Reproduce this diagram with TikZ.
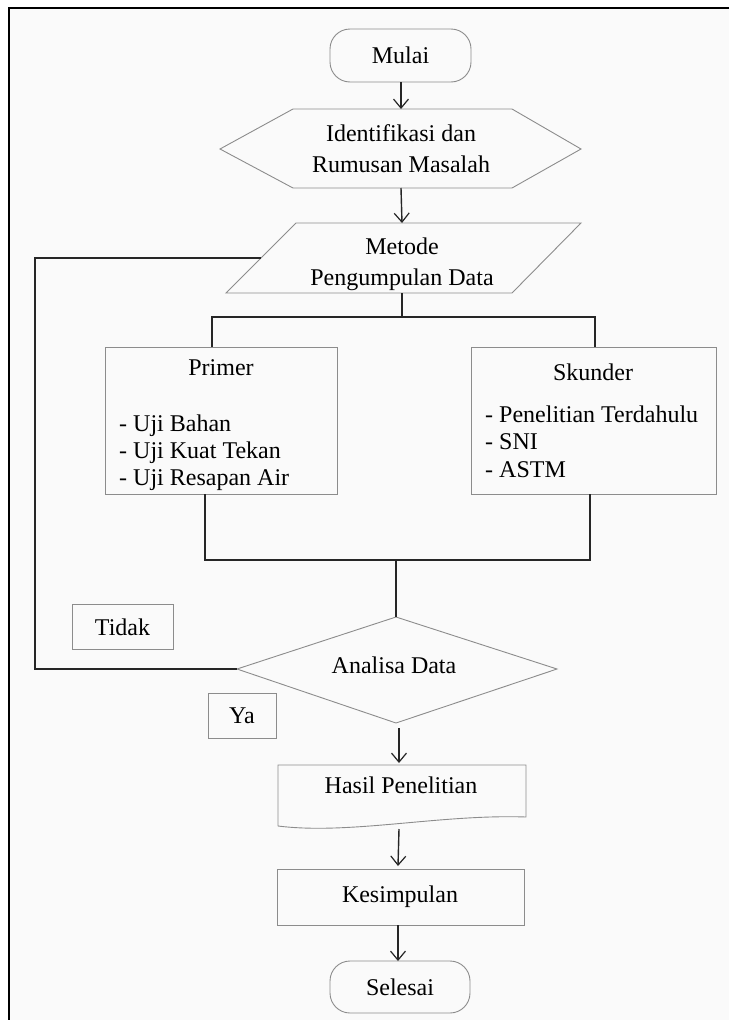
\documentclass[tikz,border=0pt]{standalone}
\usepackage{fontspec}
\setmainfont{Liberation Serif}
\usetikzlibrary{arrows.meta,shapes.geometric}
\begin{document}
\begin{tikzpicture}[x=1pt,y=-1pt,
  shapeline/.style={draw=black!45,line width=0.9pt},
  conn/.style={draw=black!85,line width=1.4pt},
  arr/.style={conn,-{Straight Barb[length=9pt,width=15pt,line width=1.2pt]}},
  txt/.style={font=\fontsize{24}{31}\selectfont,align=center,inner sep=0pt},
  itm/.style={font=\fontsize{24}{27}\selectfont,align=left,inner sep=0pt,anchor=base west}]
\useasboundingbox (0,0) rectangle (729,1020);
\fill[white] (0,0) rectangle (729,1020);
\fill[black!2] (10,9) rectangle (729,1020);
\draw[line width=2.6pt,black] (729,8) -- (9,8) -- (9,1020);

% Mulai
\draw[shapeline,rounded corners=20pt] (330,29) rectangle (471,82);
\node[txt] (mulai) at (400.5,55.5) {Mulai};
\coordinate (mulaiB) at (401,82);

% Hexagon
\draw[shapeline] (220,149) -- (293,109) -- (512,109) -- (581,149) -- (512,188) -- (293,188) -- cycle;
\node[txt] (ident) at (401,149) {Identifikasi dan\\Rumusan Masalah};
\coordinate (hexT) at (401,109);
\coordinate (hexB) at (401,188);

% Parallelogram
\draw[shapeline] (296,223) -- (581,223) -- (512,293) -- (226,293) -- cycle;
\node[txt] (metode) at (402,264) {Metode\\Pengumpulan Data};
\coordinate (parT) at (402,223);
\coordinate (parB) at (402,293);
\coordinate (parL) at (261,258);

% Primer / Skunder
\draw[shapeline] (105,347) rectangle (337,494);
\node[txt,anchor=base] (primer) at (221,375) {Primer};
\node[itm] (p1) at (119,431) {- Uji Bahan};
\node[itm] (p2) at (119,458) {- Uji Kuat Tekan};
\node[itm] (p3) at (119,485) {- Uji Resapan Air};
\draw[shapeline] (471,347) rectangle (716,494);
\node[txt,anchor=base] (skunder) at (593,380) {Skunder};
\node[itm] (s1) at (485,422) {- Penelitian Terdahulu};
\node[itm] (s2) at (485,449) {- SNI};
\node[itm] (s3) at (485,477) {- ASTM};

% Diamond
\draw[shapeline] (237,669) -- (396,617) -- (557,669) -- (396,723) -- cycle;
\node[txt] (analisa) at (394,665) {Analisa Data};
\coordinate (diaT) at (396,617);
\coordinate (diaL) at (237,669);
\coordinate (diaB) at (399,728);

% Tidak / Ya
\draw[shapeline] (72,604) rectangle (173,649);
\node[txt] (tidak) at (122.5,627) {Tidak};
\draw[shapeline] (208,693) rectangle (276,738);
\node[txt] (ya) at (242,716) {Ya};

% Hasil Penelitian (document)
\draw[shapeline] (278,826) -- (278,765) -- (526,765) -- (526,817)
   .. controls (440,814) and (350,835) .. (278,826);
\node[txt,anchor=base] (hasil) at (401,793) {Hasil Penelitian};
\coordinate (hasT) at (399,763);
\coordinate (hasB) at (399,829);

% Kesimpulan
\draw[shapeline] (277,869) rectangle (524,925);
\node[txt] (kes) at (400,897) {Kesimpulan};
\coordinate (kesT) at (398,866);
\coordinate (kesB) at (398,925);

% Selesai
\draw[shapeline,rounded corners=20pt] (330,961) rectangle (470,1013);
\node[txt] (selesai) at (400,987) {Selesai};
\coordinate (selT) at (398,961);

% connectors
\draw[arr] (mulaiB) -- (hexT);
\draw[arr] (hexB) -- (parT);
\draw[conn] (parB) -- (402,317);
\draw[conn] (212,347) -- (212,317) -- (595,317) -- (595,347);
\draw[conn] (205,494) -- (205,560) -- (590,560) -- (590,494);
\draw[conn] (396,560) -- (diaT);
\draw[conn] (diaL) -- (35,669) -- (35,258) -- (parL);
\draw[arr] (diaB) -- (hasT);
\draw[arr] (hasB) -- (kesT);
\draw[arr] (kesB) -- (selT);
\end{tikzpicture}
\end{document}
